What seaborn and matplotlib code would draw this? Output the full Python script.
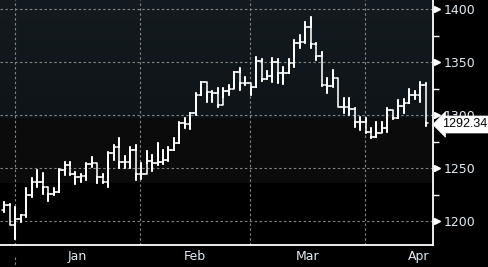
import numpy as np
import pandas as pd
import matplotlib
matplotlib.use("Agg")
import matplotlib.pyplot as plt
import matplotlib.lines as mlines
import seaborn as sns

# ---- data ----
highs = [1218.5, 1216.3, 1213.8, 1205.9, 1231.1, 1240.5, 1248.4, 1245.2, 1232.0, 1231.1,
         1249.3, 1255.6, 1255.6, 1246.2, 1244.6, 1254.7, 1261.0, 1254.7, 1244.6, 1265.7,
         1272.0, 1278.9, 1261.6, 1270.4, 1272.0, 1254.7, 1266.6, 1262.5, 1274.2, 1267.3,
         1270.4, 1278.3, 1294.0, 1297.1, 1302.5, 1321.3, 1331.7, 1331.7, 1323.2, 1325.4,
         1325.4, 1328.6, 1341.1, 1344.3, 1336.4, 1330.8, 1354.7, 1352.8, 1341.8, 1353.7,
         1353.1, 1345.2, 1352.8, 1371.0, 1375.7, 1388.3, 1393.0, 1367.9, 1360.0, 1334.9,
         1342.7, 1334.9, 1316.0, 1316.0, 1306.6, 1298.7, 1297.1, 1287.7, 1294.0, 1294.0,
         1306.6, 1305.0, 1314.4, 1315.0, 1324.5, 1323.2, 1331.1, 1330.1]
lows = [1209.1, 1196.5, 1183.0, 1199.6, 1203.7, 1222.6, 1232.7, 1225.7, 1219.5, 1224.8,
        1227.9, 1243.7, 1243.7, 1235.2, 1237.4, 1239.0, 1251.5, 1236.4, 1236.4, 1232.0,
        1257.8, 1250.0, 1250.0, 1250.0, 1239.0, 1239.6, 1254.7, 1247.7, 1253.1, 1254.0,
        1257.2, 1267.3, 1274.2, 1287.7, 1286.7, 1300.3, 1319.1, 1312.9, 1312.9, 1308.1,
        1317.6, 1319.1, 1325.4, 1323.9, 1328.6, 1319.1, 1326.4, 1332.4, 1333.9, 1331.7,
        1330.1, 1329.5, 1340.2, 1345.9, 1363.2, 1367.9, 1363.2, 1352.2, 1327.6, 1321.3,
        1326.4, 1308.1, 1301.9, 1300.3, 1289.3, 1286.1, 1283.0, 1278.3, 1279.2, 1284.6,
        1284.6, 1296.2, 1297.1, 1301.9, 1311.2, 1315.0, 1312.9, 1289.9]
closes = [1215.4, 1196.5, 1202.2, 1205.9, 1224.8, 1237.4, 1237.4, 1232.0, 1225.7, 1227.9,
          1248.4, 1253.1, 1244.6, 1242.1, 1242.7, 1254.0, 1254.7, 1242.1, 1237.4, 1264.1,
          1270.4, 1256.2, 1256.2, 1267.3, 1244.6, 1244.6, 1257.2, 1254.7, 1256.2, 1257.8,
          1267.3, 1274.2, 1292.4, 1291.8, 1301.9, 1319.1, 1331.7, 1322.3, 1321.3, 1309.7,
          1323.2, 1324.5, 1341.1, 1330.8, 1330.8, 1326.4, 1351.5, 1333.9, 1337.1, 1350.6,
          1340.2, 1340.2, 1349.6, 1367.9, 1369.5, 1383.6, 1366.9, 1355.9, 1328.6, 1327.6,
          1334.9, 1308.1, 1308.1, 1305.6, 1294.0, 1294.0, 1284.6, 1279.8, 1283.0, 1287.7,
          1305.0, 1297.1, 1308.8, 1311.2, 1319.1, 1319.1, 1328.6, 1292.34]
first_open = 1210.6
opens = [first_open] + closes[:-1]

month_labels = ["Jan", "Feb", "Mar", "Apr"]
month_bounds = [1.96, 24.79, 44.9, 65.9]
month_label_pos = [13.37, 34.85, 55.4, 75.8]
year_label = "2014"
yticks = [1200, 1250, 1300, 1350, 1400]
minor_yticks = [1225, 1275, 1325, 1375]
last_value = closes[-1]

# ---- long-form table: one OHLC polyline per bar ----
w = 0.47
rows = []
for i, (o, h, l, c) in enumerate(zip(opens, highs, lows, closes)):
    pts = [(i - w, o), (i, o), (i, h), (i, l), (i, c), (i + w, c)]
    for k, (px, py) in enumerate(pts):
        rows.append({"bar": i, "order": k, "x": px, "price": py})
df = pd.DataFrame(rows)

sns.set_style("dark")
plt.rcParams["font.family"] = ["DejaVu Sans"]

W, H = 489, 267
fig = plt.figure(figsize=(W / 100, H / 100), dpi=100, facecolor="black")
ax = fig.add_axes([0, 22 / H, 433 / W, 245 / H])
ax.set_facecolor("black")

# background gradient bands
def hx(c):
    c = c.lstrip("#")
    return np.array([int(c[j:j + 2], 16) for j in (0, 2, 4)]) / 255.0
grad = np.zeros((245, 1, 3))
top, mid = hx("#141b20"), hx("#0e1418")
for r in range(245):
    if r < 118:
        t = r / 117.0
        grad[r, 0] = top * (1 - t) + mid * t
    elif r < 183:
        grad[r, 0] = hx("#0b0b0b")
    else:
        grad[r, 0] = hx("#000000")
ax.imshow(grad, extent=[0, 1, 0, 1], transform=ax.transAxes, aspect="auto",
          zorder=0, interpolation="nearest")

ax.set_xlim(-0.786, 78.33)
ax.set_ylim(1177.6, 1408.8)

grid_kw = dict(color="#858585", lw=0.8, ls=(0, (2.2, 2.2)), zorder=1)
for yt in yticks:
    ax.axhline(yt, **grid_kw)
for xb in month_bounds:
    ax.axvline(xb, **grid_kw)

sns.lineplot(data=df, x="x", y="price", units="bar", estimator=None, sort=False,
             color="white", lw=1.15, ax=ax, legend=False, zorder=3)

# spines
for s in ("top", "left"):
    ax.spines[s].set_visible(False)
for s in ("bottom", "right"):
    ax.spines[s].set_visible(True)
    ax.spines[s].set_color("white")
    ax.spines[s].set_linewidth(1.3)
    ax.spines[s].set_zorder(5)

# y axis on right
ax.yaxis.tick_right()
ax.set_yticks(yticks)
ax.set_yticklabels([str(v) for v in yticks])
ax.set_yticks(minor_yticks, minor=True)
ax.tick_params(axis="y", which="major", length=0, pad=7.5, labelsize=9,
               labelcolor="#e4ecf4")
ax.tick_params(axis="y", which="minor", length=4, width=1, color="white",
               direction="out")
ax.plot([1.0095] * len(yticks), yticks, transform=ax.get_yaxis_transform(),
        ls="none", marker=">", ms=5, color="white", mec="white", clip_on=False,
        zorder=6)

# x axis
ax.set_xticks(month_bounds)
ax.set_xticklabels([""] * len(month_bounds))
ax.set_xticks(month_label_pos, minor=True)
ax.set_xticklabels(month_labels, minor=True)
ax.tick_params(axis="x", which="major", length=4, width=1, color="white",
               direction="out")
ax.tick_params(axis="x", which="minor", length=0, pad=3.5, labelsize=9,
               labelcolor="#e4ecf4")
ax.set_xlabel("")
ax.set_ylabel("")
ax.grid(False)

# year separator & label
fig.add_artist(mlines.Line2D([15 / W, 15 / W], [1 - 257 / H, 0], color="#858585",
                             lw=0.8, ls=(0, (2.2, 2.2))))
fig.text(220 / W, 1 - 273 / H, year_label, ha="center", va="center", fontsize=9,
         color="#e4ecf4")

# last value box
fig.text(442 / W, 1 - 124.5 / H, f"{last_value:.2f}", ha="left", va="center",
         fontsize=9, color="black", zorder=10, family=["Liberation Sans"],
         bbox=dict(boxstyle="larrow,pad=0.2", fc="white", ec="white", lw=0.5))

fig.savefig("out.png", dpi=100, facecolor="black")
